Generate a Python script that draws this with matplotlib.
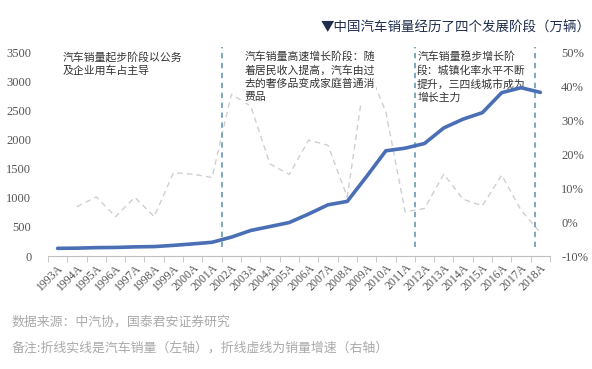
import numpy as np
import matplotlib.pyplot as plt

plt.rcParams['font.family'] = ['Noto Sans CJK SC', 'DejaVu Sans']

# Data
years = [f'{y}A' for y in range(1993, 2019)]
sales = [133, 136, 145, 148, 158, 163, 184, 209, 237, 325, 439, 507, 576,
         722, 879, 938, 1364, 1806, 1851, 1931, 2198, 2349, 2460, 2803, 2888, 2808]
growth_years = years[1:]
growth = [4.5, 7.4, 1.6, 7.3, 1.6, 14.5, 14.1, 13.1, 37.6, 34.1, 17.1, 14.0,
          24.1, 22.6, 7.4, 46.2, 32.4, 3.0, 4.0, 14.1, 6.7, 4.8, 13.8, 3.5, -3.1]
stage_breaks = [8.5, 18.5, 24.7]
left_ticks = list(range(0, 3501, 500))
right_ticks = list(range(-10, 51, 10))

notes = [
    (0.28, '汽车销量起步阶段以公务\n及企业用车占主导'),
    (9.7, '汽车销量高速增长阶段：随\n着居民收入提高，汽车由过\n去的奢侈品变成家庭普通消\n费品'),
    (18.62, '汽车销量稳步增长阶\n段：城镇化率水平不断\n提升，三四线城市成为\n增长主力'),
]

fig = plt.figure(figsize=(5.92, 3.69), dpi=100)
ax = fig.add_axes([0.081, 0.306, 0.848, 0.553])
ax2 = ax.twinx()
# solid line axis on top of the growth axis
ax.set_zorder(ax2.get_zorder() + 1)
ax.patch.set_visible(False)

x = np.arange(len(years))
ax2.plot(x[1:], growth, color='#cfcfcf', lw=1.0, ls=(0, (4, 3)), zorder=1)
ax.plot(x, sales, color='#4a6fb5', lw=2.6, solid_capstyle='round', zorder=3)

for b in stage_breaks:
    ax.axvline(b, ymin=0.045, ymax=1.025, color='#5a8fb0', lw=1.1,
               ls=(0, (3.5, 3)), clip_on=False, zorder=2)

ax.set_xlim(-0.5, len(years) - 0.5)
ax.set_ylim(0, 3500)
ax2.set_ylim(-10, 50)
ax.set_yticks(left_ticks)
ax.set_yticklabels([str(v) for v in left_ticks], family='Liberation Serif',
                   fontsize=9, color='#555555')
ax2.set_yticks(right_ticks)
ax2.set_yticklabels([f'{v}%' for v in right_ticks], family='Liberation Serif',
                    fontsize=9, color='#555555')
ax.set_xticks(x)
ax.set_xticklabels(years, rotation=45, ha='right', rotation_mode='anchor',
                   family='Liberation Serif', fontsize=8.5, color='#555555')
ax.set_xticks(np.arange(len(years) + 1) - 0.5, minor=True)
ax.tick_params(axis='x', which='major', length=0, pad=4)
ax.tick_params(axis='x', which='minor', length=4, color='#bfbfbf')
ax.tick_params(axis='y', length=0, pad=12)
ax2.tick_params(axis='y', length=0, pad=8)

for a in (ax, ax2):
    for s in ('top', 'left', 'right'):
        a.spines[s].set_visible(False)
    a.spines['bottom'].set_color('#bfbfbf')
ax2.spines['bottom'].set_visible(False)

for xi, txt in notes:
    ax2.text(xi, 50.2, txt, ha='left', va='top', fontsize=7.8,
             color='#333333', linespacing=1.35, zorder=5,
             bbox=dict(facecolor='white', edgecolor='none', pad=0.5))

fig.text(0.997, 0.925, '▼中国汽车销量经历了四个发展阶段（万辆）', ha='right',
         va='center', fontsize=9.7, color='#1f2d4d')
fig.text(0.02, 0.127, '数据来源：中汽协，国泰君安证券研究', ha='left',
         va='center', fontsize=9.3, color='#aaaaaa')
fig.text(0.02, 0.057, '备注:折线实线是汽车销量（左轴），折线虚线为销量增速（右轴）',
         ha='left', va='center', fontsize=9.3, color='#aaaaaa')

fig.savefig('out.png', dpi=100)
